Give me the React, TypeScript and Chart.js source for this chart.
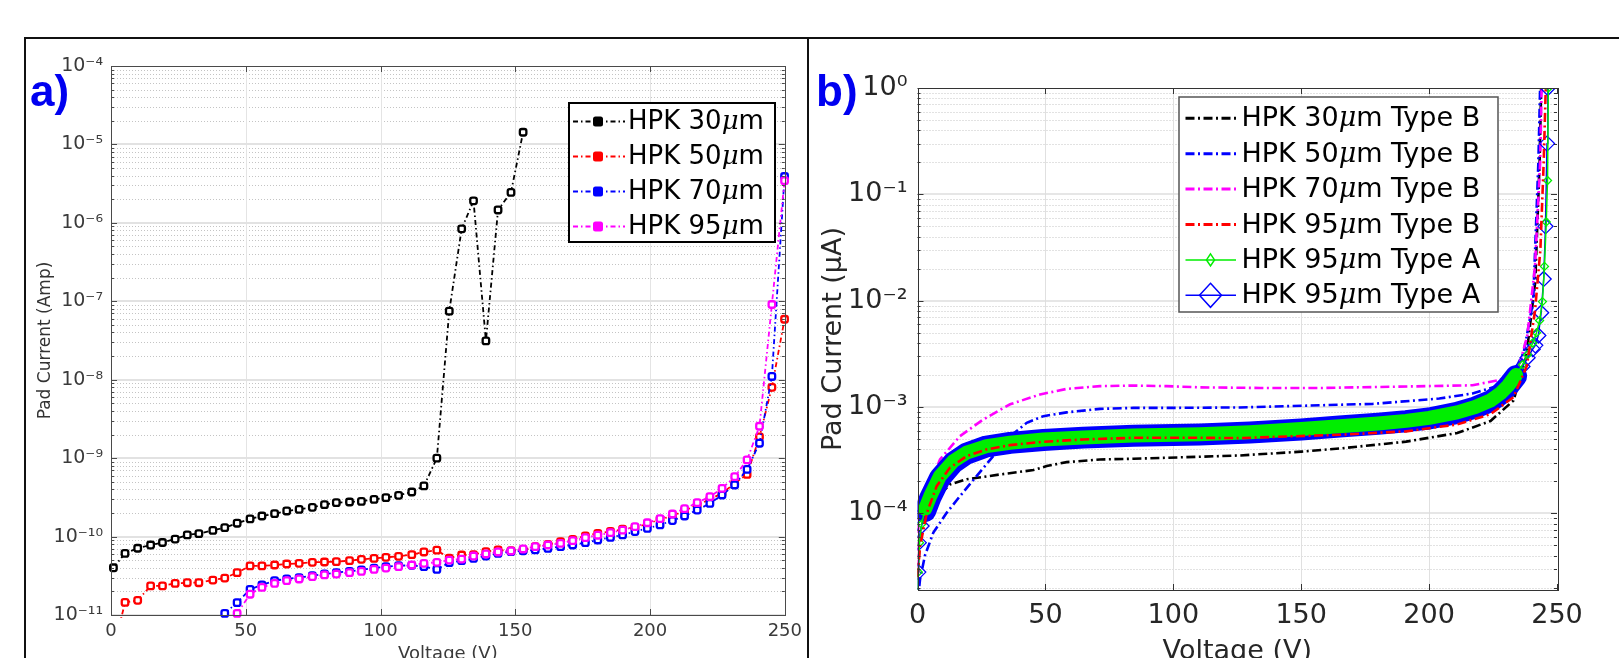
import React, { useEffect, useRef } from 'react';
import { Chart, registerables } from 'chart.js';

Chart.register(...registerables);

// ---------------- Panel a) data ----------------
const voltsA = [0.9, 5.2, 9.9, 14.7, 19.1, 23.8, 28.3, 32.6, 37.8, 42.2, 46.8, 51.6, 56.0, 60.7, 65.2, 69.8, 74.7, 79.2, 83.6, 88.5,
  92.9, 97.6, 102.0, 106.7, 111.6, 116.1, 120.9, 125.5, 130.1, 134.5, 139.1, 143.6, 148.4, 152.9, 157.4, 162.1, 166.8, 171.3, 176.0, 180.6,
  185.3, 189.8, 194.4, 199.0, 203.7, 208.3, 212.8, 217.5, 222.2, 226.7, 231.4, 236.0, 240.6, 245.2, 249.9];

const hpk30A = [4.0e-11, 6.1e-11, 7.1e-11, 7.8e-11, 8.4e-11, 9.3e-11, 1.05e-10, 1.09e-10, 1.2e-10, 1.3e-10,
  1.48e-10, 1.68e-10, 1.83e-10, 1.96e-10, 2.12e-10, 2.22e-10, 2.36e-10, 2.55e-10, 2.71e-10, 2.76e-10,
  2.81e-10, 2.98e-10, 3.13e-10, 3.36e-10, 3.7e-10, 4.42e-10, 1.0e-9, 7.5e-8, 8.4e-7, 1.91e-6,
  3.12e-8, 1.46e-6, 2.45e-6, 1.43e-5];

const hpk50A = [3.5e-12, 1.45e-11, 1.54e-11, 2.35e-11, 2.35e-11, 2.53e-11, 2.58e-11, 2.58e-11, 2.79e-11, 2.96e-11,
  3.47e-11, 4.22e-11, 4.22e-11, 4.34e-11, 4.47e-11, 4.56e-11, 4.7e-11, 4.74e-11, 4.79e-11, 4.93e-11,
  5.13e-11, 5.28e-11, 5.44e-11, 5.6e-11, 5.88e-11, 6.36e-11, 6.7e-11, 5.3e-11, 5.82e-11, 5.9e-11,
  6.42e-11, 6.75e-11, 6.6e-11, 6.75e-11, 7.44e-11, 7.96e-11, 8.61e-11, 9.23e-11, 1.02e-10, 1.1e-10,
  1.16e-10, 1.24e-10, 1.31e-10, 1.45e-10, 1.66e-10, 1.83e-10, 2.14e-10, 2.53e-10, 2.98e-10, 3.56e-10,
  4.77e-10, 6.2e-10, 1.87e-9, 8.0e-9, 5.9e-8];

const hpk70A = [null, null, null, null, null, null, null, null, null, 1.05e-11,
  1.44e-11, 2.12e-11, 2.42e-11, 2.74e-11, 2.88e-11, 3.0e-11, 3.17e-11, 3.33e-11, 3.47e-11, 3.6e-11,
  3.75e-11, 3.97e-11, 4.13e-11, 4.25e-11, 4.3e-11, 4.13e-11, 3.82e-11, 4.65e-11, 4.93e-11, 5.28e-11,
  5.65e-11, 6.1e-11, 6.42e-11, 6.6e-11, 6.75e-11, 7.08e-11, 7.44e-11, 7.81e-11, 8.36e-11, 9.04e-11,
  9.78e-11, 1.05e-10, 1.16e-10, 1.27e-10, 1.41e-10, 1.6e-10, 1.83e-10, 2.18e-10, 2.65e-10, 3.39e-10,
  4.55e-10, 7.2e-10, 1.55e-9, 1.1e-8, 3.9e-6];

const hpk95A = [null, null, null, null, null, null, null, null, null, null,
  1.05e-11, 1.84e-11, 2.25e-11, 2.53e-11, 2.74e-11, 2.88e-11, 3.08e-11, 3.24e-11, 3.33e-11, 3.47e-11,
  3.6e-11, 3.82e-11, 3.97e-11, 4.13e-11, 4.34e-11, 4.56e-11, 4.7e-11, 5.02e-11, 5.17e-11, 5.65e-11,
  6.0e-11, 6.36e-11, 6.55e-11, 6.95e-11, 7.44e-11, 7.81e-11, 8.2e-11, 8.87e-11, 9.69e-11, 1.04e-10,
  1.12e-10, 1.21e-10, 1.34e-10, 1.5e-10, 1.69e-10, 1.94e-10, 2.27e-10, 2.71e-10, 3.23e-10, 4.12e-10,
  5.8e-10, 9.5e-10, 2.55e-9, 9.1e-8, 3.45e-6];

const namesA = ['HPK 30μm', 'HPK 50μm', 'HPK 70μm', 'HPK 95μm'];
const colorsA = ['#000000', '#ff0000', '#0000ff', '#ff00ff'];
const yTickValuesA = [1e-11, 1e-10, 1e-9, 1e-8, 1e-7, 1e-6, 1e-5, 1e-4];
const yTickLabelsA = ['10⁻¹¹', '10⁻¹⁰', '10⁻⁹', '10⁻⁸', '10⁻⁷', '10⁻⁶', '10⁻⁵', '10⁻⁴'];
const xTickValues = [0, 50, 100, 150, 200, 250];

// ---------------- Panel b) data ----------------
const voltsB30 = [0, 1, 3.5, 6.8, 12.7, 19.2, 32.3, 45.3, 50.5, 58.3, 71.3, 84.4, 97.4, 126, 150, 165, 191, 211, 224, 233, 238, 241.5, 243.2, 243.8];
const hpk30B = [2.5e-5, 6e-5, 1.09e-4, 1.35e-4, 1.87e-4, 2.09e-4, 2.32e-4, 2.55e-4, 2.78e-4, 3.03e-4, 3.21e-4, 3.26e-4, 3.33e-4, 3.5e-4, 3.8e-4, 4.07e-4, 4.72e-4, 5.69e-4, 7.38e-4, 1.15e-3, 3.0e-3, 1.5e-2, 0.2, 1.0];

const voltsB50 = [0, 1, 2.9, 6.2, 11.4, 16.6, 23.1, 29.6, 36.2, 42.7, 49.2, 58.3, 71.3, 84.4, 97.4, 126, 178, 204, 217, 228, 233, 237, 240.7, 242.7, 243.4];
const hpk50B = [1.4e-5, 2.4e-5, 4.0e-5, 6.6e-5, 1.01e-4, 1.45e-4, 2.24e-4, 3.45e-4, 5.3e-4, 7.1e-4, 8.2e-4, 8.9e-4, 9.6e-4, 9.8e-4, 9.8e-4, 9.9e-4, 1.07e-3, 1.2e-3, 1.34e-3, 1.61e-3, 2.09e-3, 3.27e-3, 1.0e-2, 0.195, 1.0];

const voltsB70 = [0, 0.4, 3.6, 8.8, 16.6, 25.7, 36.2, 47.9, 58.3, 71.3, 84.4, 97.4, 110.4, 134, 158, 199, 217, 227.6, 232.8, 235.5, 238.4, 241.4, 243.4, 244];
const hpk70B = [3.0e-5, 8.8e-5, 1.56e-4, 3.21e-4, 5.32e-4, 7.63e-4, 1.06e-3, 1.31e-3, 1.48e-3, 1.57e-3, 1.59e-3, 1.57e-3, 1.53e-3, 1.51e-3, 1.51e-3, 1.57e-3, 1.6e-3, 1.8e-3, 2.09e-3, 2.6e-3, 4.7e-3, 2.1e-2, 0.196, 1.0];

const voltsB95 = [0, 1, 3.6, 7.5, 12.7, 19.2, 27, 36.2, 49.2, 64.8, 84.4, 110.4, 126, 165, 191, 211, 224, 233, 238.2, 241.4, 243.5, 244.8, 245.6];
const hpk95B = [2.5e-5, 4.9e-5, 1.0e-4, 1.8e-4, 2.69e-4, 3.45e-4, 3.99e-4, 4.38e-4, 4.71e-4, 4.95e-4, 5.13e-4, 5.13e-4, 5.1e-4, 5.48e-4, 5.9e-4, 6.85e-4, 8.56e-4, 1.24e-3, 2.43e-3, 8.0e-3, 3.0e-2, 0.2, 1.0];

const voltsTypeAGreen = [0, 0.3, 0.8, 1.6, 3, 5, 8.8, 14, 19.2, 27, 36.2, 49.2, 64.8, 84.4, 110.4, 130, 150, 165, 180, 191,
  200, 211, 218, 224, 228, 231, 234, 236.5, 238.5, 240.5, 242, 243.2, 244.3, 245.1, 245.8, 246.3, 246.6];
const hpk95TypeAGreen = [1.2e-5, 2.8e-5, 5.3e-5, 7.9e-5, 1.1e-4, 1.45e-4, 2.24e-4, 3.1e-4, 3.72e-4, 4.29e-4,
  4.61e-4, 4.95e-4, 5.17e-4, 5.4e-4, 5.55e-4, 5.8e-4, 6.2e-4, 6.6e-4, 7.0e-4, 7.4e-4,
  7.9e-4, 8.9e-4, 1.0e-3, 1.15e-3, 1.35e-3, 1.6e-3, 2.0e-3, 2.5e-3, 3.1e-3, 4.0e-3,
  5.0e-3, 6.5e-3, 9.8e-3, 2.1e-2, 5.5e-2, 0.135, 1.0];

const voltsTypeABlue = [0, 0.3, 0.5, 1.6, 3, 5, 8.8, 14, 19.2, 27, 36.2, 49.2, 64.8, 84.4, 110.4, 130, 150, 165, 180, 191,
  200, 211, 218, 224, 228, 231, 234, 236.5, 238.5, 240.5, 241.5, 242.7, 243.8, 244.8, 245.5, 246.1, 246.4];
const hpk95TypeABlue = [1.0e-5, 2.8e-5, 5.3e-5, 7.6e-5, 1.05e-4, 1.4e-4, 2.15e-4, 3.0e-4, 3.65e-4, 4.25e-4,
  4.6e-4, 4.9e-4, 5.15e-4, 5.35e-4, 5.5e-4, 5.75e-4, 6.15e-4, 6.55e-4, 6.95e-4, 7.35e-4,
  7.8e-4, 8.8e-4, 9.9e-4, 1.13e-3, 1.33e-3, 1.58e-3, 1.95e-3, 2.4e-3, 2.9e-3, 3.5e-3,
  3.8e-3, 4.7e-3, 7.7e-3, 1.6e-2, 5.0e-2, 0.3, 1.0];

const namesB = ['HPK 30μm Type B', 'HPK 50μm Type B', 'HPK 70μm Type B', 'HPK 95μm Type B', 'HPK 95μm Type A', 'HPK 95μm Type A'];
const colorsB = ['#000000', '#0000ff', '#ff00ff', '#ff0000', '#00ee00', '#0000ff'];
const yTickValuesB = [1e-4, 1e-3, 1e-2, 1e-1, 1];
const yTickLabelsB = ['10⁻⁴', '10⁻³', '10⁻²', '10⁻¹', '10⁰'];

// ---------------- helpers ----------------
const toPoints = (xs: number[], ys: (number | null)[]) =>
  xs.map((x, i) => ({ x, y: ys[i] })).filter((p) => p.y !== null && p.y !== undefined);

function drawRich(ctx: CanvasRenderingContext2D, text: string, x: number, y: number, size: number) {
  const parts = text.split('μ');
  let cx = x;
  parts.forEach((part, i) => {
    if (i > 0) {
      ctx.font = `italic ${size}px "DejaVu Serif"`;
      ctx.fillText('μ', cx, y);
      cx += ctx.measureText('μ').width;
    }
    ctx.font = `${size}px "DejaVu Sans"`;
    ctx.fillText(part, cx, y);
    cx += ctx.measureText(part).width;
  });
}

function diamond(ctx: CanvasRenderingContext2D, x: number, y: number, rx: number, ry: number) {
  ctx.beginPath();
  ctx.moveTo(x, y - ry);
  ctx.lineTo(x + rx, y);
  ctx.lineTo(x, y + ry);
  ctx.lineTo(x - rx, y);
  ctx.closePath();
}

type GridCfg = {
  pMin: number; pMax: number; majorColor: string; majorWidth: number; minorColor: string;
  xColor: string; boxColor: string; panelLabel: string; labelX: number;
};

function makeAxesPlugin(cfg: GridCfg) {
  return {
    id: 'matlabAxes',
    beforeDatasetsDraw(chart: any) {
      const { ctx, chartArea: ca, scales } = chart;
      const xs = scales.x, ys = scales.y;
      ctx.save();
      ctx.beginPath();
      ctx.rect(ca.left, ca.top, ca.right - ca.left, ca.bottom - ca.top);
      ctx.clip();
      ctx.lineWidth = 1;
      ctx.strokeStyle = cfg.minorColor;
      ctx.setLineDash([1, 2]);
      for (let p = cfg.pMin - 1; p <= cfg.pMax; p++) {
        for (let m = 2; m <= 9; m++) {
          const v = m * Math.pow(10, p);
          if (v <= ys.min || v >= ys.max) continue;
          const py = Math.round(ys.getPixelForValue(v)) + 0.5;
          ctx.beginPath(); ctx.moveTo(ca.left, py); ctx.lineTo(ca.right, py); ctx.stroke();
        }
      }
      ctx.setLineDash([]);
      ctx.strokeStyle = cfg.xColor;
      for (const v of xTickValues) {
        const px = Math.round(xs.getPixelForValue(v)) + 0.5;
        ctx.beginPath(); ctx.moveTo(px, ca.top); ctx.lineTo(px, ca.bottom); ctx.stroke();
      }
      ctx.strokeStyle = cfg.majorColor;
      ctx.lineWidth = cfg.majorWidth;
      for (let p = cfg.pMin; p <= cfg.pMax; p++) {
        const py = Math.round(ys.getPixelForValue(Math.pow(10, p)));
        ctx.beginPath(); ctx.moveTo(ca.left, py); ctx.lineTo(ca.right, py); ctx.stroke();
      }
      ctx.restore();
    },
    afterDatasetsDraw(chart: any) {
      const { ctx, chartArea: ca, scales } = chart;
      const xs = scales.x, ys = scales.y;
      ctx.save();
      ctx.strokeStyle = cfg.boxColor;
      ctx.lineWidth = 1;
      for (let p = cfg.pMin - 1; p <= cfg.pMax; p++) {
        for (let m = 1; m <= 9; m++) {
          const v = m * Math.pow(10, p);
          if (v < ys.min || v > ys.max) continue;
          const len = m === 1 ? 6 : 3;
          const py = Math.round(ys.getPixelForValue(v)) + 0.5;
          ctx.beginPath();
          ctx.moveTo(ca.left, py); ctx.lineTo(ca.left + len, py);
          ctx.moveTo(ca.right, py); ctx.lineTo(ca.right - len, py);
          ctx.stroke();
        }
      }
      for (const v of xTickValues) {
        const px = Math.round(xs.getPixelForValue(v)) + 0.5;
        ctx.beginPath();
        ctx.moveTo(px, ca.bottom); ctx.lineTo(px, ca.bottom - 6);
        ctx.moveTo(px, ca.top); ctx.lineTo(px, ca.top + 6);
        ctx.stroke();
      }
      ctx.strokeRect(Math.round(ca.left) + 0.5, Math.round(ca.top) + 0.5,
        Math.round(ca.right - ca.left), Math.round(ca.bottom - ca.top));
      ctx.restore();
    },
    afterDraw(chart: any) {
      const ctx = chart.ctx;
      ctx.save();
      ctx.fillStyle = '#0000f0';
      ctx.font = 'bold 44px "Liberation Sans", Arial, sans-serif';
      ctx.textBaseline = 'alphabetic';
      ctx.fillText(cfg.panelLabel, cfg.labelX, 106);
      ctx.restore();
    },
  };
}

const legendPluginA = {
  id: 'legendA',
  afterDraw(chart: any) {
    const ctx = chart.ctx as CanvasRenderingContext2D;
    ctx.save();
    ctx.fillStyle = '#ffffff';
    ctx.fillRect(569, 103, 206, 139);
    ctx.strokeStyle = '#000000';
    ctx.lineWidth = 2;
    ctx.strokeRect(569, 103, 206, 139);
    namesA.forEach((name, i) => {
      const y = 121.5 + i * 35;
      const c = colorsA[i];
      ctx.strokeStyle = c;
      ctx.lineWidth = 2;
      ctx.setLineDash([5, 3, 1.5, 3]);
      ctx.beginPath(); ctx.moveTo(573, y); ctx.lineTo(625, y); ctx.stroke();
      ctx.setLineDash([]);
      ctx.fillStyle = c;
      ctx.beginPath();
      (ctx as any).roundRect ? (ctx as any).roundRect(593, y - 5, 10, 10, 2.5) : ctx.rect(593, y - 5, 10, 10);
      ctx.fill();
      ctx.fillStyle = '#000000';
      ctx.textBaseline = 'middle';
      drawRich(ctx, name, 628, y + 1, 26);
    });
    ctx.restore();
  },
};

const legendPluginB = {
  id: 'legendB',
  afterDraw(chart: any) {
    const ctx = chart.ctx as CanvasRenderingContext2D;
    ctx.save();
    ctx.fillStyle = '#ffffff';
    ctx.fillRect(371, 97, 319, 215);
    ctx.strokeStyle = '#555555';
    ctx.lineWidth = 1.5;
    ctx.strokeRect(371, 97, 319, 215);
    namesB.forEach((name, i) => {
      const y = 118.3 + i * 35.4;
      const c = colorsB[i];
      ctx.strokeStyle = c;
      if (i < 4) {
        ctx.lineWidth = 3;
        ctx.setLineDash([9, 3.5, 2, 3.5]);
        ctx.beginPath(); ctx.moveTo(377.5, y); ctx.lineTo(428, y); ctx.stroke();
        ctx.setLineDash([]);
      } else {
        ctx.lineWidth = 1.5;
        ctx.beginPath(); ctx.moveTo(377.5, y); ctx.lineTo(428, y); ctx.stroke();
        if (i === 4) diamond(ctx, 402.5, y, 4, 6);
        else diamond(ctx, 402.5, y, 11, 12);
        ctx.stroke();
      }
      ctx.fillStyle = '#000000';
      ctx.textBaseline = 'middle';
      drawRich(ctx, name, 433.4, y + 1, 27);
    });
    ctx.restore();
  },
};

function dsA(label: string, data: any[], color: string, order: number) {
  return {
    label, data, order,
    borderColor: color, backgroundColor: '#ffffff', borderWidth: 1.8,
    borderDash: [5, 3, 1.5, 3],
    pointStyle: 'rectRounded', pointRadius: 3.8, pointBorderWidth: 2.3,
    pointBorderColor: color, pointBackgroundColor: '#ffffff',
    tension: 0, fill: false,
    clip: { left: 6, right: 6, top: 6, bottom: 3 },
  };
}

function dsB(label: string, data: any[], color: string, order: number) {
  return {
    label, data, order,
    borderColor: color, borderWidth: 2.6, borderDash: [9, 3.5, 2, 3.5],
    pointRadius: 0, tension: 0, fill: false,
  };
}

// Type A curves: a wide stroke where the curve is flat (the dense marker band of the
// original), a thin one where it is steep (turn-on at 0 V and breakdown near 245 V).
function dsBand(label: string, volts: number[], values: number[], color: string, order: number, thick: number, radius: number) {
  return {
    label, data: toPoints(volts, values), order,
    borderColor: color, borderWidth: thick,
    borderJoinStyle: 'round', borderCapStyle: 'round',
    segment: {
      borderWidth: (c: any) => {
        const limit = volts[c.p0DataIndex] > 200 ? 1.4 : 3.5;
        return Math.abs(c.p1.y - c.p0.y) > limit * Math.abs(c.p1.x - c.p0.x) ? 1.5 : thick;
      },
    },
    pointStyle: 'rectRot', pointRadius: radius, pointBorderWidth: 1.3,
    pointBorderColor: color, pointBackgroundColor: 'rgba(0,0,0,0)',
    tension: 0, fill: false,
  };
}

const xAxis = (height: number, size: number, padding: number, color: string) => ({
  type: 'linear', min: 0, max: 250,
  afterBuildTicks: (s: any) => { s.ticks = xTickValues.map((v) => ({ value: v })); },
  afterFit: (s: any) => { s.height = height; },
  grid: { display: false, drawTicks: false },
  border: { display: false },
  ticks: { padding, color, maxRotation: 0, autoSkip: false, font: { family: 'DejaVu Sans', size }, callback: (v: any) => String(v) },
  title: { display: true, text: 'Voltage (V)', color, font: { family: 'DejaVu Sans', size }, padding: 0 },
});

export default function App() {
  const refA = useRef<HTMLCanvasElement>(null);
  const refB = useRef<HTMLCanvasElement>(null);

  useEffect(() => {
    const chartA = new Chart(refA.current as HTMLCanvasElement, {
      type: 'line',
      data: {
        datasets: [
          dsA(namesA[3], toPoints(voltsA, hpk95A), colorsA[3], 1),
          dsA(namesA[2], toPoints(voltsA, hpk70A), colorsA[2], 2),
          dsA(namesA[1], toPoints(voltsA, hpk50A), colorsA[1], 3),
          dsA(namesA[0], toPoints(voltsA, hpk30A), colorsA[0], 4),
        ] as any,
      },
      options: {
        animation: false, responsive: false, devicePixelRatio: 1, events: [],
        layout: { padding: { left: 35, right: 20, top: 66, bottom: 35.2 } },
        plugins: { legend: { display: false }, tooltip: { enabled: false } },
        scales: {
          x: xAxis(49.8, 18, 6, '#3a3a3a') as any,
          y: {
            type: 'logarithmic', min: 1e-11, max: 1e-4,
            afterBuildTicks: (s: any) => { s.ticks = yTickValuesA.map((v) => ({ value: v })); },
            afterFit: (s: any) => { s.width = 76; },
            grid: { display: false, drawTicks: false },
            border: { display: false },
            ticks: {
              padding: 8, color: '#3a3a3a', autoSkip: false,
              font: { family: 'DejaVu Sans', size: 19 },
              callback: (_v: any, i: number) => yTickLabelsA[i] ?? '',
            },
            title: { display: true, text: 'Pad Current (Amp)', color: '#333333', font: { family: 'DejaVu Sans', size: 17 }, padding: 0 },
          } as any,
        },
      } as any,
      plugins: [
        makeAxesPlugin({ pMin: -11, pMax: -4, majorColor: '#e2e2e2', majorWidth: 2, minorColor: '#c4c4c4', xColor: '#e4e4e4', boxColor: '#4a4a4a', panelLabel: 'a)', labelX: 30 }),
        legendPluginA,
      ],
    });

    const chartB = new Chart(refB.current as HTMLCanvasElement, {
      type: 'line',
      data: {
        datasets: [
          dsB(namesB[0], toPoints(voltsB30, hpk30B), colorsB[0], 6),
          dsB(namesB[1], toPoints(voltsB50, hpk50B), colorsB[1], 5),
          dsB(namesB[2], toPoints(voltsB70, hpk70B), colorsB[2], 4),
          dsBand(namesB[5], voltsTypeABlue, hpk95TypeABlue, colorsB[5], 3, 22, 7.5),
          dsBand(namesB[4], voltsTypeAGreen, hpk95TypeAGreen, colorsB[4], 2, 14, 4),
          dsB(namesB[3], toPoints(voltsB95, hpk95B), colorsB[3], 1),
        ] as any,
      },
      options: {
        animation: false, responsive: false, devicePixelRatio: 1, events: [],
        layout: { padding: { left: 10, right: 62, top: 88, bottom: 31.5 } },
        plugins: { legend: { display: false }, tooltip: { enabled: false } },
        scales: {
          x: xAxis(78.5, 27, 10, '#262626') as any,
          y: {
            type: 'logarithmic', min: 1.9e-5, max: 1,
            afterBuildTicks: (s: any) => { s.ticks = yTickValuesB.map((v) => ({ value: v })); },
            afterFit: (s: any) => { s.width = 99.5; },
            grid: { display: false, drawTicks: false },
            border: { display: false },
            ticks: {
              padding: 10, color: '#262626', autoSkip: false,
              font: { family: 'DejaVu Sans', size: 27 },
              callback: (_v: any, i: number) => yTickLabelsB[i] ?? '',
            },
            title: { display: true, text: 'Pad Current (μA)', color: '#262626', font: { family: 'DejaVu Sans', size: 27 }, padding: 0 },
          } as any,
        },
      } as any,
      plugins: [
        makeAxesPlugin({ pMin: -4, pMax: 0, majorColor: '#dedede', majorWidth: 1.5, minorColor: '#c4c4c4', xColor: '#e0e0e0', boxColor: '#333333', panelLabel: 'b)', labelX: 8 }),
        legendPluginB,
      ],
    });

    return () => { chartA.destroy(); chartB.destroy(); };
  }, []);

  return (
    <div style={{ position: 'absolute', left: 0, top: 0, width: 1619, height: 658, overflow: 'hidden', background: '#ffffff' }}>
      <canvas ref={refA} width={808} height={700} style={{ position: 'absolute', left: 0, top: 0 }} />
      <canvas ref={refB} width={811} height={700} style={{ position: 'absolute', left: 808, top: 0 }} />
      <div style={{ position: 'absolute', left: 24, top: 37, width: 1595, height: 2, background: '#111' }} />
      <div style={{ position: 'absolute', left: 24, top: 37, width: 2, height: 621, background: '#111' }} />
      <div style={{ position: 'absolute', left: 807, top: 37, width: 2, height: 621, background: '#111' }} />
    </div>
  );
}
